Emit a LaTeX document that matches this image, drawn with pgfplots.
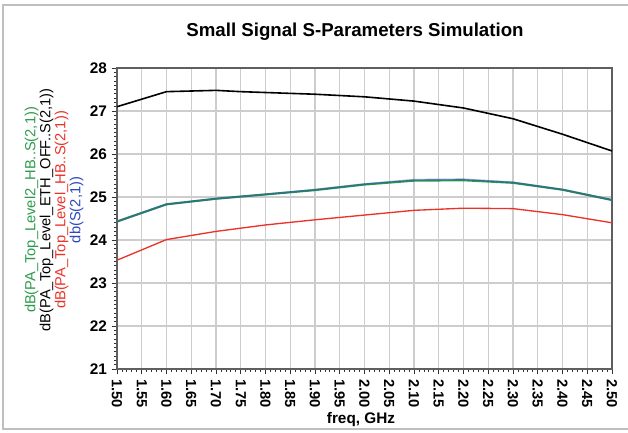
\documentclass[border=0pt]{standalone}
\usepackage{fontspec}
\setmainfont{Liberation Sans}
\usepackage{pgfplots}
\pgfplotsset{compat=1.18}

\definecolor{cgreen}{RGB}{45,155,75}
\definecolor{cblue}{RGB}{45,70,190}
\definecolor{cred}{RGB}{235,50,40}
\definecolor{cgrid}{RGB}{205,205,205}
\definecolor{cframe}{RGB}{95,95,95}

\begin{document}
\begin{tikzpicture}
% page = 628x432 px, 1px = 0.75pt, axis box at (117..612, 68..369)
\path[use as bounding box] (-87.75pt,-47.25pt) rectangle (383.25pt,276.75pt);
\draw[draw=black!25, line width=1.5pt] (383.25pt,273pt) -- (-85.5pt,273pt) -- (-85.5pt,-45pt) -- (383.25pt,-45pt);

\begin{axis}[
at={(0,0)}, anchor=south west,
scale only axis,
width=371.25pt, height=225.75pt,
xmin=1.5, xmax=2.5,
ymin=21, ymax=28,
xtick={1.5,1.55,...,2.51},
ytick={21,22,...,28},
minor x tick num=4,
minor y tick num=9,
grid=major,
major grid style={draw=cgrid, line width=0.8pt},
axis line style={draw=cframe, line width=1.5pt},
tick align=outside,
tick style={draw=black!80, line width=0.6pt},
major tick length=4pt,
minor tick length=2pt,
xtick pos=bottom, ytick pos=left,
tick label style={font=\fontsize{11}{13}\selectfont\bfseries},
/pgf/number format/assume math mode=true,
x tick label style={rotate=-90, anchor=west, /pgf/number format/.cd, fixed, fixed zerofill, precision=2},
y tick label style={font=\fontsize{11.5}{13}\selectfont\bfseries, /pgf/number format/.cd, fixed, precision=0},
xticklabel shift=0pt,
yticklabel shift=0pt,
]
% green: dB(PA_Top_Level2_HB..S(2,1))
\addplot[color=cgreen, line width=1.6pt] coordinates {
(1.50,24.43) (1.60,24.83) (1.70,24.96) (1.80,25.06) (1.90,25.16) (2.00,25.29)
(2.10,25.38) (2.20,25.39) (2.30,25.33) (2.40,25.17) (2.50,24.93)};
% blue: db(S(2,1))
\addplot[color=cblue, line width=1.4pt, opacity=0.45] coordinates {
(1.50,24.43) (1.60,24.83) (1.70,24.96) (1.80,25.06) (1.90,25.17) (2.00,25.30)
(2.10,25.40) (2.20,25.41) (2.30,25.34) (2.40,25.17) (2.50,24.93)};
% black: dB(PA_Top_Level_ETH_OFF..S(2,1))
\addplot[color=black, line width=1.2pt] coordinates {
(1.50,27.10) (1.60,27.45) (1.70,27.48) (1.75,27.45) (1.80,27.43) (1.90,27.39)
(2.00,27.33) (2.10,27.23) (2.20,27.07) (2.30,26.82) (2.40,26.46) (2.50,26.07)};
% red: dB(PA_Top_Level_HB..S(2,1))
\addplot[color=cred, line width=1.0pt] coordinates {
(1.50,23.53) (1.60,24.01) (1.70,24.20) (1.80,24.35) (1.90,24.47) (2.00,24.58)
(2.10,24.69) (2.20,24.74) (2.30,24.73) (2.40,24.59) (2.50,24.40)};
\end{axis}

\node[font=\fontsize{14}{16}\selectfont\bfseries] at (178.5pt,253pt) {Small Signal S-Parameters Simulation};
\node[font=\fontsize{11.5}{13}\selectfont\bfseries] at (183pt,-38.25pt) {freq, GHz};
\node[rotate=90, align=center, font=\fontsize{11}{11.25}\selectfont] at (-47.25pt,119.25pt) {%
\textcolor{cgreen}{dB(PA\_Top\_Level2\_HB..S(2,1))}\\
dB(PA\_Top\_Level\_ETH\_OFF..S(2,1))\\
\textcolor{cred}{dB(PA\_Top\_Level\_HB..S(2,1))}\\
\textcolor{cblue}{db(S(2,1))}};
\end{tikzpicture}
\end{document}
